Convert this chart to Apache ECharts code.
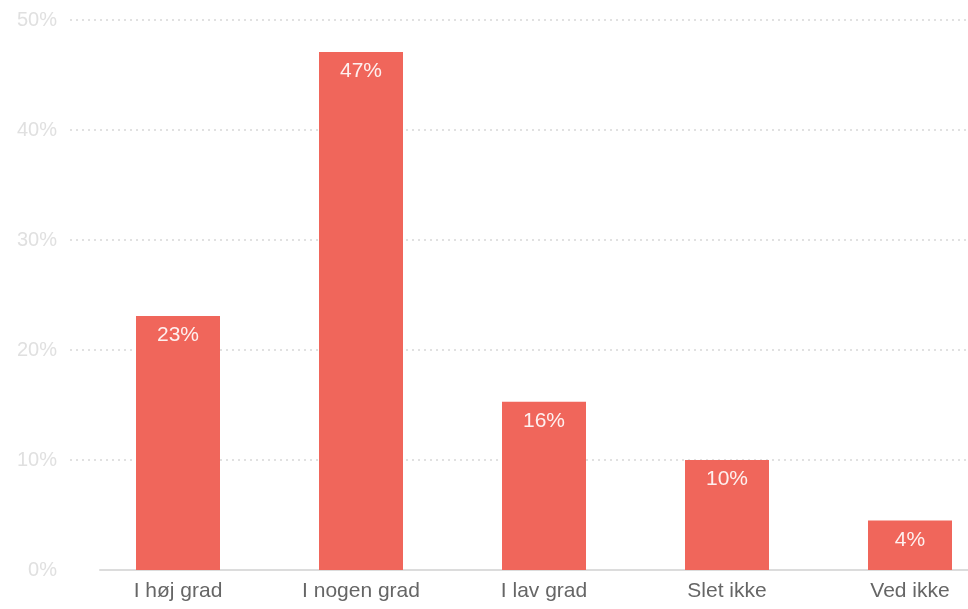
<!DOCTYPE html>
<html>
<head>
<meta charset="utf-8">
<script src="https://cdn.jsdelivr.net/npm/echarts@6/dist/echarts.min.js"></script>
<style>
html,body{margin:0;padding:0;background:#fff;}
#chart{width:968px;height:609px;}
</style>
</head>
<body>
<div id="chart"></div>
<script>
var categories = ["I høj grad", "I nogen grad", "I lav grad", "Slet ikke", "Ved ikke"];
var values = [23.1, 47.1, 15.3, 10.0, 4.5];
var valueLabels = ["23%", "47%", "16%", "10%", "4%"];
var yMin = 0, yMax = 50, yStep = 10;

var chart = echarts.init(document.getElementById('chart'));
var font = '"Liberation Sans", Arial, Helvetica, sans-serif';
chart.setOption({
  animation: false,
  grid: [
    {left: 70, right: 0, top: 20, bottom: 39},
    {left: 178, right: 58, top: 20, bottom: 39},
    {left: 100, right: 0, top: 20, bottom: 39}
  ],
  xAxis: [
    {gridIndex: 0, type: 'value', show: false},
    {gridIndex: 1, type: 'category', data: categories, boundaryGap: false,
     axisLine: {show: false}, axisTick: {show: false},
     axisLabel: {color: '#666', fontSize: 21, fontFamily: font, margin: 11}},
    {gridIndex: 2, type: 'value', min: 0, max: 1,
     axisLine: {show: true, lineStyle: {color: '#dcdcdc', width: 2}},
     axisTick: {show: false}, axisLabel: {show: false}, splitLine: {show: false}}
  ],
  yAxis: [
    {gridIndex: 0, type: 'value', min: yMin, max: yMax, interval: yStep,
     axisLine: {show: false}, axisTick: {show: false},
     axisLabel: {formatter: '{value}%', color: '#e0e0e0', fontSize: 20, fontFamily: font, margin: 13,
                 verticalAlign: 'middle', lineHeight: 20, padding: [8, 0, 0, 0]},
     splitLine: {showMinLine: false, lineStyle: {color: '#d8d8d8', type: [2, 4], width: 1.5}}},
    {gridIndex: 1, type: 'value', min: yMin, max: yMax, interval: yStep, show: false},
    {gridIndex: 2, type: 'value', min: yMin, max: yMax, show: false}
  ],
  series: [{
    type: 'bar', xAxisIndex: 1, yAxisIndex: 1,
    data: values, barWidth: 84,
    itemStyle: {color: '#f0665b'},
    label: {
      show: true, position: 'insideTop', distance: 9,
      color: 'rgba(255,255,255,0.9)', fontSize: 21, fontFamily: font,
      formatter: function (p) { return valueLabels[p.dataIndex]; }
    }
  }]
});
</script>
</body>
</html>
